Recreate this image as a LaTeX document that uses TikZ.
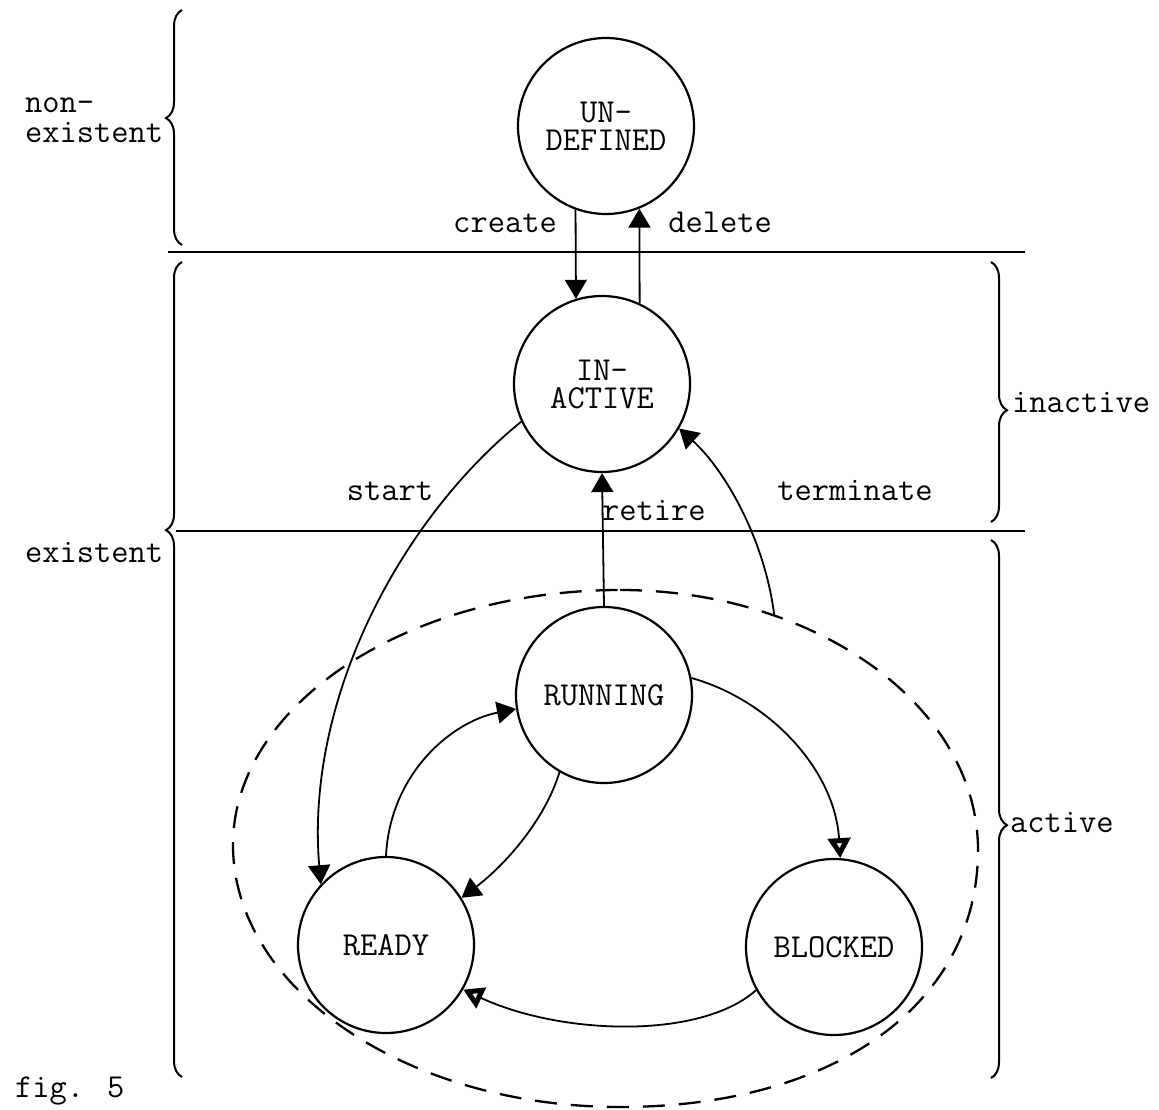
\documentclass[tikz,border=0pt]{standalone}
\usepackage{fontspec}
\usetikzlibrary{arrows.meta,decorations.pathreplacing}
\begin{document}
\begin{tikzpicture}[x=1pt,y=1pt,
  every node/.style={font=\ttfamily\fontsize{33.5}{28}\selectfont},
  state/.style={circle, draw, line width=2.2pt, minimum size=176pt, inner sep=0pt, align=center},
  lbl/.style={anchor=base, inner sep=0pt},
  lblw/.style={anchor=base west, inner sep=0pt},
  arr/.style={line width=1.8pt, -{Triangle[length=19pt,width=22pt]}},
  oarr/.style={line width=1.8pt, -{Triangle[open,length=20pt,width=22pt,line width'=5pt]}},
  rule/.style={line width=2pt},
  bracel/.style={line width=2pt, decorate},
  dashring/.style={line width=2.3pt, dash pattern=on 22pt off 14pt},
]
\useasboundingbox (0,0) rectangle (1159,-1110);

% states
\node[state] (und) at (606,-126) {UN-\\DEFINED};
\node[state] (inact) at (602,-384) {IN-\\ACTIVE};
\node[state] (run) at (604,-695) {RUNNING};
\node[state] (ready) at (386,-945) {READY};
\node[state] (blocked) at (834,-947) {BLOCKED};

% horizontal rules
\draw[rule] (168,-252) -- (1025,-252);
\draw[rule] (176,-531) -- (1025,-531);

% braces
\draw[bracel, decoration={brace,amplitude=16pt,aspect=0.54}] (182,-245) -- (182,-10);
\draw[bracel, decoration={brace,amplitude=16pt,aspect=0.671}] (182,-1077) -- (182,-262);
\draw[bracel, decoration={brace,amplitude=16pt,aspect=0.57}] (991,-262) -- (991,-522);
\draw[bracel, decoration={brace,amplitude=16pt,aspect=0.53}] (991,-540) -- (991,-1078);

% dashed region of active states
\draw[dashring] (620,-590)
  .. controls (817,-590) and (978,-707) .. coordinate[pos=0.28] (T) (978,-850)
  .. controls (978,-1004) and (835,-1107) .. (620,-1107)
  .. controls (407,-1107) and (233,-989) .. (233,-845)
  .. controls (233,-705) and (407,-590) .. (620,-590) -- cycle;

% labels
\node[lblw] (lnon) at (25,-113) {non-};
\node[lblw] (lnonex) at (25,-143) {existent};
\node[lblw] (lex) at (25,-562) {existent};
\node[lblw] (linact) at (1012,-412) {inactive};
\node[lblw] (lact) at (1010,-832) {active};
\node[lblw] (lfig) at (15,-1097) {fig. 5};
\node[lbl] (lcreate) at (505,-233) {create};
\node[lbl] (ldelete) at (720,-233) {delete};
\node[lbl] (lstart) at (390,-500) {start};
\node[lblw] (lretire) at (602,-520) {retire};
\node[lbl] (lterm) at (855,-500) {terminate};

% transitions
\draw[arr] (und.250) -- (inact.107);
\draw[arr] (inact.65) -- (und.-68);
\draw[arr] (run.north) -- (inact.south);
\draw[arr] (inact.205) .. controls (400,-520) and (305,-700) .. (ready.137);
\draw[arr] (T) .. controls (765,-540) and (725,-470) .. (inact.-30);
\draw[arr] (ready.90) .. controls (390,-775) and (450,-722) .. (run.189);
\draw[arr] (run.240) .. controls (545,-820) and (505,-865) .. (ready.32);
\draw[oarr] (run.11) .. controls (770,-700) and (835,-770) .. (blocked.86);
\draw[oarr] (blocked.209) .. controls (700,-1040) and (560,-1035) .. (ready.-30);
\end{tikzpicture}
\end{document}
